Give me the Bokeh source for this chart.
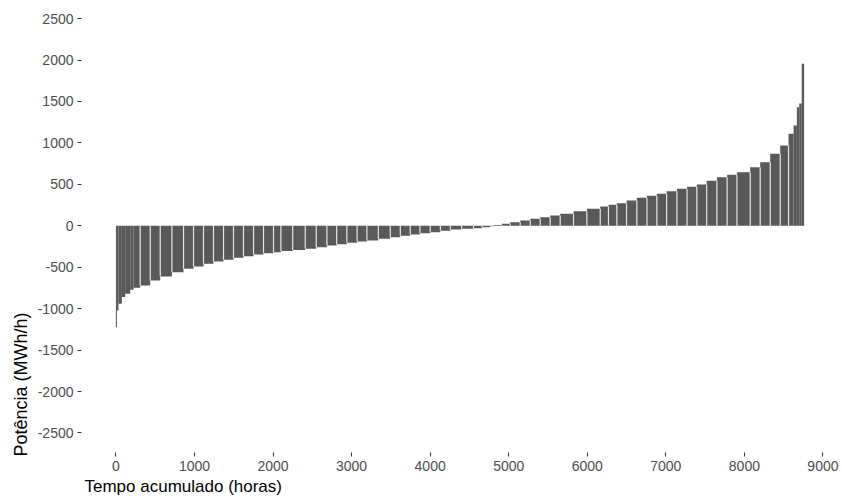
import numpy as np
from bokeh.plotting import figure
from bokeh.models import ColumnDataSource, Range1d, FixedTicker, Title
from bokeh.embed import file_html
from bokeh.resources import INLINE

# Sorted (duration-curve) values: start hour of each step and its power
hour_start = [0, 13, 33, 76, 118, 182, 224, 309, 437, 564, 713, 861, 988, 1115, 1242,
              1370, 1497, 1624, 1752, 1879, 2006, 2100, 2250, 2410, 2550, 2686, 2810,
              2940, 3070, 3195, 3340, 3492, 3620, 3746, 3870, 4001, 4130, 4256, 4400,
              4552, 4660, 4764, 4806, 4913, 5019, 5146, 5274, 5401, 5528, 5655, 5825,
              5995, 6165, 6270, 6377, 6500, 6631, 6760, 6886, 7010, 7141, 7270, 7395,
              7520, 7650, 7780, 7905, 8074, 8201, 8329, 8456, 8562, 8626, 8668, 8698,
              8730]
power = [-1224, -1022, -941, -861, -821, -773, -748, -720, -660, -612, -560, -519, -491,
         -459, -431, -410, -386, -367, -346, -331, -319, -305, -292, -278, -258, -238,
         -222, -205, -191, -177, -157, -137, -121, -105, -91, -77, -61, -45, -37, -29,
         -17, -5, 8, 25, 42, 64, 84, 104, 124, 145, 176, 205, 233, 253, 273, 305, 338,
         362, 386, 416, 446, 472, 498, 542, 587, 617, 647, 707, 768, 869, 969, 1110, 1210,
         1431, 1476, 1955]
total_hours = 8760

x_ticks = [0, 1000, 2000, 3000, 4000, 5000, 6000, 7000, 8000, 9000]
y_ticks = [-2500, -2000, -1500, -1000, -500, 0, 500, 1000, 1500, 2000, 2500]
x_title = "Tempo acumulado (horas)"
y_title = "Potência (MWh/h)"

hour_end = hour_start[1:] + [total_hours]
src = ColumnDataSource(dict(left=hour_start, right=hour_end, top=power,
                            bottom=[0] * len(power)))

# thin light separators between the wider steps (rendering gaps in the reference)
p_arr = np.array(power, dtype=float)
widths = np.array(hour_end) - np.array(hour_start)
keep = [i for i in range(1, len(hour_start)) if widths[i - 1] >= 60 and widths[i] >= 60]
sep_x = [hour_start[i] for i in keep]
sep_y = [p_arr[i] if abs(p_arr[i]) < abs(p_arr[i - 1]) else p_arr[i - 1] for i in keep]
sep_src = ColumnDataSource(dict(x0=sep_x, x1=sep_x, y0=[0] * len(sep_x), y1=sep_y))

p = figure(frame_width=757, frame_height=444, output_backend="svg", toolbar_location=None,
           x_range=Range1d(-438, 9198), y_range=Range1d(-2736, 2622),
           min_border_left=81, min_border_right=2, min_border_top=8, min_border_bottom=30)

p.quad(left="left", right="right", top="top", bottom="bottom", source=src,
       fill_color="#595959", line_color=None)
p.segment(x0="x0", x1="x1", y0="y0", y1="y1", source=sep_src,
          line_color="#e4e4e4", line_width=1.2)

p.outline_line_color = None
p.background_fill_color = "white"
p.border_fill_color = "white"
p.xgrid.visible = False
p.ygrid.visible = False

for ax in (p.xaxis[0], p.yaxis[0]):
    ax.axis_line_color = None
    ax.major_tick_line_color = "#333333"
    ax.major_tick_in = 0
    ax.major_tick_out = 4
    ax.minor_tick_line_color = None
    ax.major_label_text_color = "#4D4D4D"
    ax.major_label_text_font = "Liberation Sans"
    ax.major_label_text_font_size = "14px"
    ax.major_label_standoff = 4

p.xaxis[0].ticker = FixedTicker(ticks=x_ticks)
p.yaxis[0].ticker = FixedTicker(ticks=y_ticks)
p.xaxis[0].major_label_overrides = {t: str(t) for t in x_ticks}
p.yaxis[0].major_label_overrides = {t: str(t) for t in y_ticks}

# Axis titles, left/bottom aligned as in the reference
p.add_layout(Title(text=x_title, align="left", offset=3, standoff=3,
                   text_font="Liberation Sans", text_font_size="17px",
                   text_font_style="normal", text_color="black"), "below")
p.add_layout(Title(text=y_title, align="left", offset=-4, standoff=8,
                   text_font="Liberation Sans", text_font_size="18px",
                   text_font_style="normal", text_color="black"), "left")

open("out.html", "w").write(file_html(p, INLINE))
